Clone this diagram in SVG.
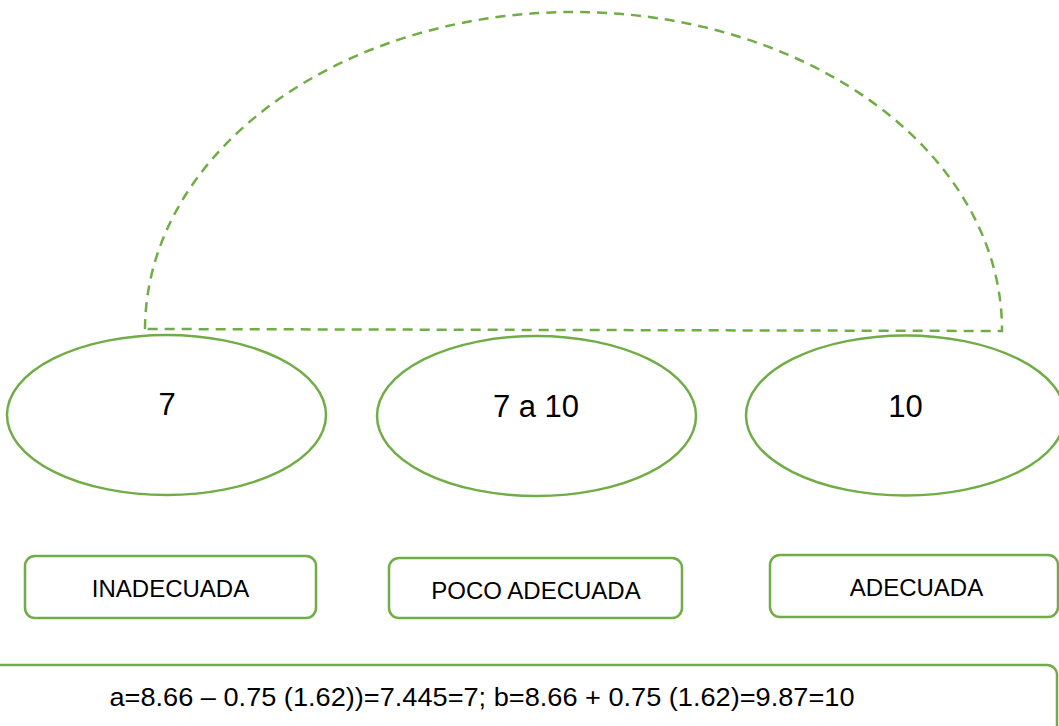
<svg xmlns="http://www.w3.org/2000/svg" width="1059" height="726" viewBox="0 0 1059 726">
<style>
.g{fill:none;stroke:#70AD47;stroke-width:2.5}
.d{stroke-dasharray:10 7}
.t{font-family:"Liberation Sans",Arial,sans-serif;fill:#000;text-anchor:middle}
.big{font-size:31px}
.lbl{font-size:24px}
.f{font-size:25px}
</style>
<rect width="1059" height="726" fill="#fff"/>
<g id="connectors">
<path id="arc" class="g d" d="M145,329 A428.5,318 0 0 1 1002,331 Z"/>
</g>
<g id="node-7">
<ellipse class="g" cx="166.5" cy="415" rx="159.5" ry="80"/>
<text class="t big" x="167" y="415">7</text>
</g>
<g id="node-7a10">
<ellipse class="g" cx="536.5" cy="416" rx="159.5" ry="80"/>
<text class="t big" x="536" y="417">7 a 10</text>
</g>
<g id="node-10">
<ellipse class="g" cx="905.5" cy="415.5" rx="159.5" ry="80"/>
<text class="t big" x="905.5" y="417">10</text>
</g>
<g id="box-inadecuada">
<rect class="g" x="25" y="556" width="291" height="62" rx="10"/>
<text class="t lbl" x="170.5" y="597">INADECUADA</text>
</g>
<g id="box-poco">
<rect class="g" x="389" y="558" width="293" height="60" rx="10"/>
<text class="t lbl" x="536" y="599">POCO ADECUADA</text>
</g>
<g id="box-adecuada">
<rect class="g" x="770" y="555" width="288" height="62" rx="10"/>
<text class="t lbl" x="916.5" y="596">ADECUADA</text>
</g>
<g id="box-formula">
<rect class="g" x="-12" y="665" width="1069" height="100" rx="10"/>
<text class="t f" x="482" y="706" textLength="745" lengthAdjust="spacingAndGlyphs">a=8.66 – 0.75 (1.62))=7.445=7; b=8.66 + 0.75 (1.62)=9.87=10</text>
</g>
</svg>
